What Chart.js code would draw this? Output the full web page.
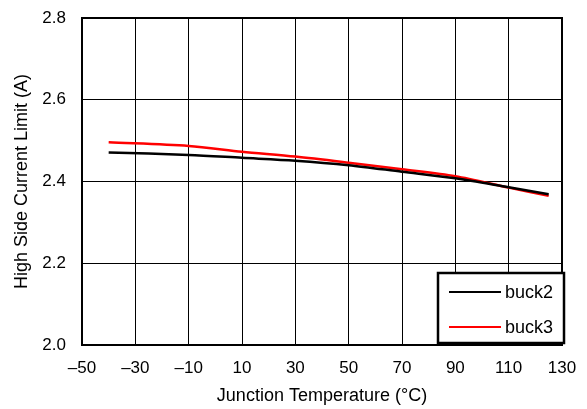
<!DOCTYPE html>
<html>
<head>
<meta charset="utf-8">
<script src="https://cdn.jsdelivr.net/npm/chart.js@4.4.1/dist/chart.umd.min.js"></script>
<style>
  html, body { margin: 0; padding: 0; background: #fff; }
  #wrap { width: 587px; height: 409px; }
</style>
</head>
<body>
<div id="wrap"><canvas id="c" width="587" height="409"></canvas></div>
<script>
// Junction temperature points (°C)
const temps = [-40, -10, 10, 30, 50, 70, 90, 110, 125];
// High side current limit (A)
const buck2 = [2.471, 2.465, 2.458, 2.451, 2.440, 2.424, 2.408, 2.386, 2.369];
const buck3 = [2.496, 2.487, 2.473, 2.461, 2.446, 2.430, 2.413, 2.385, 2.365];

const xTicks = [-50, -30, -10, 10, 30, 50, 70, 90, 110, 130];
const yTicks = [2.0, 2.2, 2.4, 2.6, 2.8];

const font = 'Liberation Sans, Arial, sans-serif';

// frame round the plot + boxed legend in the lower right corner
const framePlugin = {
    id: 'frame',
    afterDraw(chart) {
        const ctx = chart.ctx;
        const a = chart.chartArea;
        ctx.save();
        ctx.strokeStyle = '#000';
        ctx.lineWidth = 2;
        ctx.strokeRect(a.left, a.top, a.right - a.left, a.bottom - a.top);

        const x = a.right - 124, y = a.bottom - 72;
        const w = 126, h = 70;
        ctx.fillStyle = '#fff';
        ctx.fillRect(x, y, w, h);
        ctx.lineWidth = 2.5;
        ctx.strokeRect(x, y, w, h);
        ctx.font = '18px ' + font;
        ctx.textBaseline = 'middle';
        chart.data.datasets.forEach((ds, i) => {
            const ly = y + 19 + i * 35;
            ctx.strokeStyle = ds.borderColor;
            ctx.lineWidth = 2;
            ctx.beginPath();
            ctx.moveTo(x + 11, ly);
            ctx.lineTo(x + 63, ly);
            ctx.stroke();
            ctx.fillStyle = '#000';
            ctx.fillText(ds.label, x + 67, ly + 1);
        });
        ctx.restore();
    }
};

new Chart(document.getElementById('c'), {
    type: 'line',
    data: {
        datasets: [
            {
                label: 'buck2',
                data: temps.map((t, i) => ({ x: t, y: buck2[i] })),
                borderColor: '#000000',
                borderWidth: 2.5,
                pointRadius: 0,
                tension: 0.3
            },
            {
                label: 'buck3',
                data: temps.map((t, i) => ({ x: t, y: buck3[i] })),
                borderColor: '#ff0000',
                borderWidth: 2.5,
                pointRadius: 0,
                tension: 0.3
            }
        ]
    },
    options: {
        responsive: false,
        animation: false,
        layout: { padding: { top: 18, right: 25, left: 0, bottom: 0 } },
        plugins: {
            legend: { display: false },
            tooltip: { enabled: false }
        },
        scales: {
            x: {
                type: 'linear',
                min: -50,
                max: 130,
                afterBuildTicks: axis => { axis.ticks = xTicks.map(v => ({ value: v })); },
                afterFit: axis => {
                    axis.height = 64;
                    axis.paddingLeft = 0;
                    axis.paddingRight = 0;
                },
                ticks: {
                    color: '#000',
                    font: { family: font, size: 17 },
                    padding: 13,
                    maxRotation: 0,
                    autoSkip: false,
                    callback: v => (v < 0 ? '\u2013' + Math.abs(v) : String(v))
                },
                grid: { color: '#000', lineWidth: 1, drawTicks: false },
                border: { color: '#000', width: 2 },
                title: {
                    display: true,
                    text: 'Junction Temperature (°C)',
                    color: '#000',
                    font: { family: font, size: 18 },
                    padding: { top: 0, bottom: 2 }
                }
            },
            y: {
                min: 2.0,
                max: 2.8,
                afterBuildTicks: axis => { axis.ticks = yTicks.map(v => ({ value: v })); },
                afterFit: axis => {
                    axis.width = 82;
                    axis.paddingTop = 0;
                    axis.paddingBottom = 0;
                },
                ticks: {
                    color: '#000',
                    font: { family: font, size: 17 },
                    padding: 16,
                    callback: v => v.toFixed(1)
                },
                grid: { color: '#000', lineWidth: 1, drawTicks: false },
                border: { color: '#000', width: 2 },
                title: {
                    display: true,
                    text: 'High Side Current Limit (A)',
                    color: '#000',
                    font: { family: font, size: 18 },
                    padding: { top: 11, bottom: 0 }
                }
            }
        }
    },
    plugins: [framePlugin]
});
</script>
</body>
</html>
